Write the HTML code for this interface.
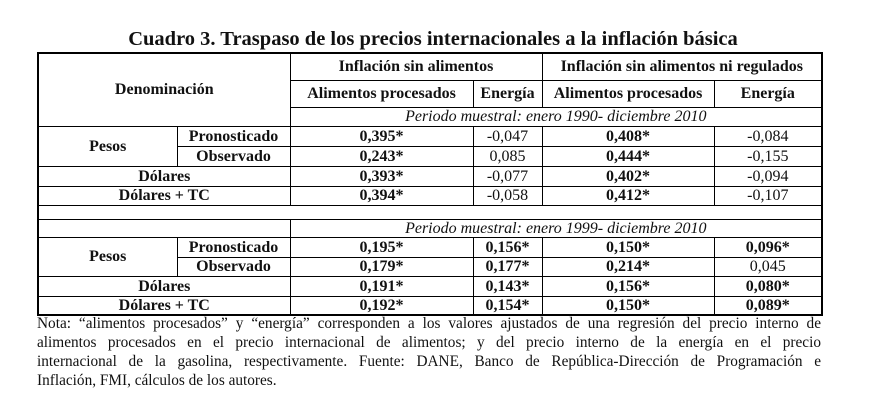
<!DOCTYPE html>
<html><head><meta charset="utf-8">
<style>
html,body{margin:0;padding:0;background:#fff;}
body{width:883px;height:416px;position:relative;overflow:hidden;font-family:"Liberation Serif",serif;color:#111;}
#title{position:absolute;left:0;width:866px;top:28px;text-align:center;font-weight:bold;font-size:20.5px;line-height:22px;}
table{position:absolute;left:37px;top:52px;border-collapse:collapse;table-layout:fixed;width:784px;border:2px solid #000;}
td{border:1px solid #000;padding:0;text-align:center;font-size:16px;line-height:15px;overflow:hidden;white-space:nowrap;}
.b{font-weight:bold;}
.i{font-style:italic;}
#note{position:absolute;left:37px;top:314px;width:784px;font-size:15.3px;line-height:19px;}
#note span{display:block;text-align:justify;text-align-last:justify;white-space:nowrap;}
#note span.last{text-align-last:left;}
</style></head><body>
<div id="title">Cuadro 3. Traspaso de los precios internacionales a la inflación básica</div>
<table>
<colgroup><col style="width:139px"><col style="width:113px"><col style="width:183px"><col style="width:69px"><col style="width:172px"><col style="width:108px"></colgroup>
<tr style="height:27px"><td class="b" colspan="2" rowspan="3">Denominación</td><td class="b" colspan="2">Inflación sin alimentos</td><td class="b" colspan="2">Inflación sin alimentos ni regulados</td></tr>
<tr style="height:27px"><td class="b">Alimentos procesados</td><td class="b">Energía</td><td class="b">Alimentos procesados</td><td class="b">Energía</td></tr>
<tr style="height:19px"><td colspan="4" class="i">Periodo muestral: enero 1990- diciembre 2010</td></tr>
<tr style="height:20px"><td class="b" rowspan="2">Pesos</td><td class="b">Pronosticado</td><td class="b">0,395*</td><td>-0,047</td><td class="b">0,408*</td><td>-0,084</td></tr>
<tr style="height:20px"><td class="b">Observado</td><td class="b">0,243*</td><td>0,085</td><td class="b">0,444*</td><td>-0,155</td></tr>
<tr style="height:20px"><td class="b" colspan="2">Dólares</td><td class="b">0,393*</td><td>-0,077</td><td class="b">0,402*</td><td>-0,094</td></tr>
<tr style="height:19px"><td class="b" colspan="2">Dólares + TC</td><td class="b">0,394*</td><td>-0,058</td><td class="b">0,412*</td><td>-0,107</td></tr>
<tr style="height:14px"><td colspan="6"></td></tr>
<tr style="height:18px"><td colspan="2"></td><td colspan="4" class="i">Periodo muestral: enero 1999- diciembre 2010</td></tr>
<tr style="height:20px"><td class="b" rowspan="2">Pesos</td><td class="b">Pronosticado</td><td class="b">0,195*</td><td class="b">0,156*</td><td class="b">0,150*</td><td class="b">0,096*</td></tr>
<tr style="height:19px"><td class="b">Observado</td><td class="b">0,179*</td><td class="b">0,177*</td><td class="b">0,214*</td><td>0,045</td></tr>
<tr style="height:20px"><td class="b" colspan="2">Dólares</td><td class="b">0,191*</td><td class="b">0,143*</td><td class="b">0,156*</td><td class="b">0,080*</td></tr>
<tr style="height:19px"><td class="b" colspan="2">Dólares + TC</td><td class="b">0,192*</td><td class="b">0,154*</td><td class="b">0,150*</td><td class="b">0,089*</td></tr>
</table>
<div id="note"><span>Nota: “alimentos procesados” y “energía” corresponden a los valores ajustados de una regresión del precio interno de</span><span>alimentos procesados en el precio internacional de alimentos; y del precio interno de la energía en el precio</span><span>internacional de la gasolina, respectivamente. Fuente: DANE, Banco de República-Dirección de Programación e</span><span class="last">Inflación, FMI, cálculos de los autores.</span></div>
</body></html>
